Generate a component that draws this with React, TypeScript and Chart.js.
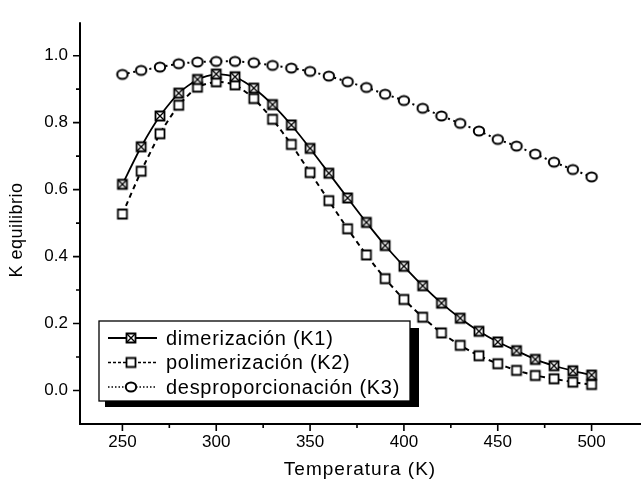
import React, { useEffect, useRef } from 'react';
import { Chart, registerables } from 'chart.js';

Chart.register(...registerables);

// ---------- data ----------
const temperatures = [250, 260, 270, 280, 290, 300, 310, 320, 330, 340, 350, 360, 370, 380, 390, 400, 410, 420, 430, 440, 450, 460, 470, 480, 490, 500];
const kDimerizacion = [0.616, 0.728, 0.820, 0.888, 0.929, 0.945, 0.937, 0.903, 0.854, 0.793, 0.723, 0.649, 0.575, 0.502, 0.433, 0.371, 0.313, 0.261, 0.216, 0.177, 0.145, 0.119, 0.093, 0.074, 0.059, 0.046];
const kPolimerizacion = [0.527, 0.655, 0.767, 0.852, 0.906, 0.922, 0.913, 0.872, 0.810, 0.735, 0.651, 0.567, 0.483, 0.405, 0.334, 0.272, 0.219, 0.172, 0.135, 0.104, 0.080, 0.060, 0.045, 0.035, 0.025, 0.018];
const kDesproporcionacion = [0.944, 0.956, 0.966, 0.976, 0.981, 0.983, 0.983, 0.979, 0.971, 0.963, 0.953, 0.939, 0.922, 0.905, 0.885, 0.866, 0.843, 0.820, 0.798, 0.775, 0.750, 0.730, 0.706, 0.682, 0.660, 0.638];
const seriesLabels = ['dimerización (K1)', 'polimerización (K2)', 'desproporcionación (K3)'];
const xTickValues = [250, 300, 350, 400, 450, 500];
const xMinorTickValues = [275, 325, 375, 425, 475];
const yTickValues = [0.0, 0.2, 0.4, 0.6, 0.8, 1.0];
const yMinorTickValues = [0.1, 0.3, 0.5, 0.7, 0.9];
const xTitle = 'Temperatura (K)';
const yTitle = 'K equilibrio';

const FONT = "'Liberation Sans', Arial, Helvetica, sans-serif";

function makeMarker(kind: 'xsquare' | 'square' | 'circle'): HTMLCanvasElement {
  const c = document.createElement('canvas');
  c.width = 14;
  c.height = 14;
  const g = c.getContext('2d')!;
  g.strokeStyle = '#000';
  g.fillStyle = '#fff';
  if (kind === 'circle') {
    g.lineWidth = 2;
    g.beginPath();
    g.ellipse(7, 7, 5.2, 4.6, 0, 0, Math.PI * 2);
    g.fill();
    g.stroke();
  } else {
    g.lineWidth = 1.8;
    g.beginPath();
    g.rect(2.5, 2.5, 9, 9);
    g.fill();
    g.stroke();
    if (kind === 'xsquare') {
      g.lineWidth = 1.4;
      g.beginPath();
      g.moveTo(2.5, 2.5);
      g.lineTo(11.5, 11.5);
      g.moveTo(11.5, 2.5);
      g.lineTo(2.5, 11.5);
      g.stroke();
    }
  }
  return c;
}

export default function App() {
  const ref = useRef<HTMLCanvasElement | null>(null);

  useEffect(() => {
    if (!ref.current) return;
    const mK1 = makeMarker('xsquare');
    const mK2 = makeMarker('square');
    const mK3 = makeMarker('circle');

    const legendStyles = [
      { dash: [] as number[], width: 1.8, marker: mK1 },
      { dash: [3, 2], width: 1.6, marker: mK2 },
      { dash: [1.5, 2], width: 1.6, marker: mK3 },
    ];

    const customPlugin = {
      id: 'customDecor',
      afterDraw(chart: any) {
        const { ctx, chartArea } = chart;
        const xs = chart.scales.x;
        const ys = chart.scales.y;
        ctx.save();
        ctx.strokeStyle = '#000';
        ctx.fillStyle = '#000';
        // axes lines
        ctx.lineWidth = 2;
        ctx.beginPath();
        ctx.moveTo(chartArea.left, chartArea.top);
        ctx.lineTo(chartArea.left, chartArea.bottom + 1);
        ctx.moveTo(chartArea.left - 1, chartArea.bottom);
        ctx.lineTo(chart.width, chartArea.bottom);
        ctx.stroke();
        // ticks
        ctx.lineWidth = 1.6;
        ctx.beginPath();
        yTickValues.forEach((v) => {
          const p = ys.getPixelForValue(v);
          ctx.moveTo(chartArea.left - 7, p);
          ctx.lineTo(chartArea.left, p);
        });
        yMinorTickValues.forEach((v) => {
          const p = ys.getPixelForValue(v);
          ctx.moveTo(chartArea.left - 4, p);
          ctx.lineTo(chartArea.left, p);
        });
        xTickValues.forEach((v) => {
          const p = xs.getPixelForValue(v);
          ctx.moveTo(p, chartArea.bottom);
          ctx.lineTo(p, chartArea.bottom + 7);
        });
        xMinorTickValues.forEach((v) => {
          const p = xs.getPixelForValue(v);
          ctx.moveTo(p, chartArea.bottom);
          ctx.lineTo(p, chartArea.bottom + 4);
        });
        ctx.stroke();

        // axis titles
        (ctx as any).letterSpacing = '1px';
        ctx.font = `19px ${FONT}`;
        ctx.textAlign = 'center';
        ctx.textBaseline = 'middle';
        ctx.fillText(xTitle, 360, 470);
        (ctx as any).letterSpacing = '0.5px';
        ctx.font = `18px ${FONT}`;
        ctx.save();
        ctx.translate(17, 230);
        ctx.rotate(-Math.PI / 2);
        ctx.fillText(yTitle, 0, 0);
        ctx.restore();

        // legend with shadow
        const bx = 99, by = 321, bw = 311, bh = 80;
        ctx.fillStyle = '#000';
        ctx.fillRect(105, 328, 314, 79);
        ctx.fillStyle = '#fff';
        ctx.fillRect(bx, by, bw, bh);
        ctx.lineWidth = 1.3;
        ctx.strokeStyle = '#000';
        ctx.strokeRect(bx, by, bw, bh);
        (ctx as any).letterSpacing = '0.7px';
        ctx.font = `20px ${FONT}`;
        ctx.textAlign = 'left';
        ctx.textBaseline = 'middle';
        seriesLabels.forEach((label, i) => {
          const cy = by + 17 + i * 24.5;
          const st = legendStyles[i];
          ctx.beginPath();
          ctx.setLineDash(st.dash);
          ctx.lineWidth = st.width;
          ctx.moveTo(108, cy);
          ctx.lineTo(157, cy);
          ctx.stroke();
          ctx.setLineDash([]);
          ctx.drawImage(st.marker, 131 - st.marker.width / 2, cy - st.marker.height / 2);
          ctx.fillStyle = '#000';
          ctx.fillText(label, 166, cy + 1);
        });
        ctx.restore();
      },
    };

    const chart = new Chart(ref.current, {
      type: 'line',
      data: {
        labels: temperatures,
        datasets: [
          {
            label: seriesLabels[0],
            data: temperatures.map((t, i) => ({ x: t, y: kDimerizacion[i] })),
            borderColor: '#000',
            borderWidth: 1.8,
            pointStyle: mK1 as any,
            pointRadius: 5,
            tension: 0.2,
          },
          {
            label: seriesLabels[1],
            data: temperatures.map((t, i) => ({ x: t, y: kPolimerizacion[i] })),
            borderColor: '#000',
            borderWidth: 2,
            borderDash: [5, 4],
            pointStyle: mK2 as any,
            pointRadius: 5,
            tension: 0.2,
          },
          {
            label: seriesLabels[2],
            data: temperatures.map((t, i) => ({ x: t, y: kDesproporcionacion[i] })),
            borderColor: '#000',
            borderWidth: 2,
            borderDash: [2, 3.5],
            pointStyle: mK3 as any,
            pointRadius: 5,
            tension: 0.2,
          },
        ],
      },
      options: {
        responsive: false,
        animation: false,
        layout: { padding: { top: 11, left: 0, right: 0, bottom: 0 } },
        plugins: { legend: { display: false }, tooltip: { enabled: false } },
        scales: {
          x: {
            type: 'linear',
            min: 227.4,
            max: 522.6,
            grid: { display: false, drawTicks: false },
            border: { display: false },
            afterBuildTicks: (scale: any) => {
              scale.ticks = xTickValues.map((v) => ({ value: v }));
            },
            afterFit: (scale: any) => {
              scale.height = 60;
            },
            ticks: {
              color: '#000',
              padding: 8,
              maxRotation: 0,
              font: { family: FONT, size: 17 },
              callback: (v: any) => String(v),
            },
          },
          y: {
            type: 'linear',
            min: -0.1,
            max: 1.1,
            grid: { display: false, drawTicks: false },
            border: { display: false },
            afterBuildTicks: (scale: any) => {
              scale.ticks = yTickValues.map((v) => ({ value: v }));
            },
            afterFit: (scale: any) => {
              scale.width = 80;
            },
            ticks: {
              color: '#000',
              padding: 12,
              font: { family: FONT, size: 17 },
              callback: (v: any) => Number(v).toFixed(1),
            },
          },
        },
      },
      plugins: [customPlugin],
    });
    return () => chart.destroy();
  }, []);

  return (
    <div style={{ position: 'absolute', left: 0, top: 0, width: 641, height: 484, background: '#fff' }}>
      <canvas ref={ref} width={641} height={484} />
    </div>
  );
}
